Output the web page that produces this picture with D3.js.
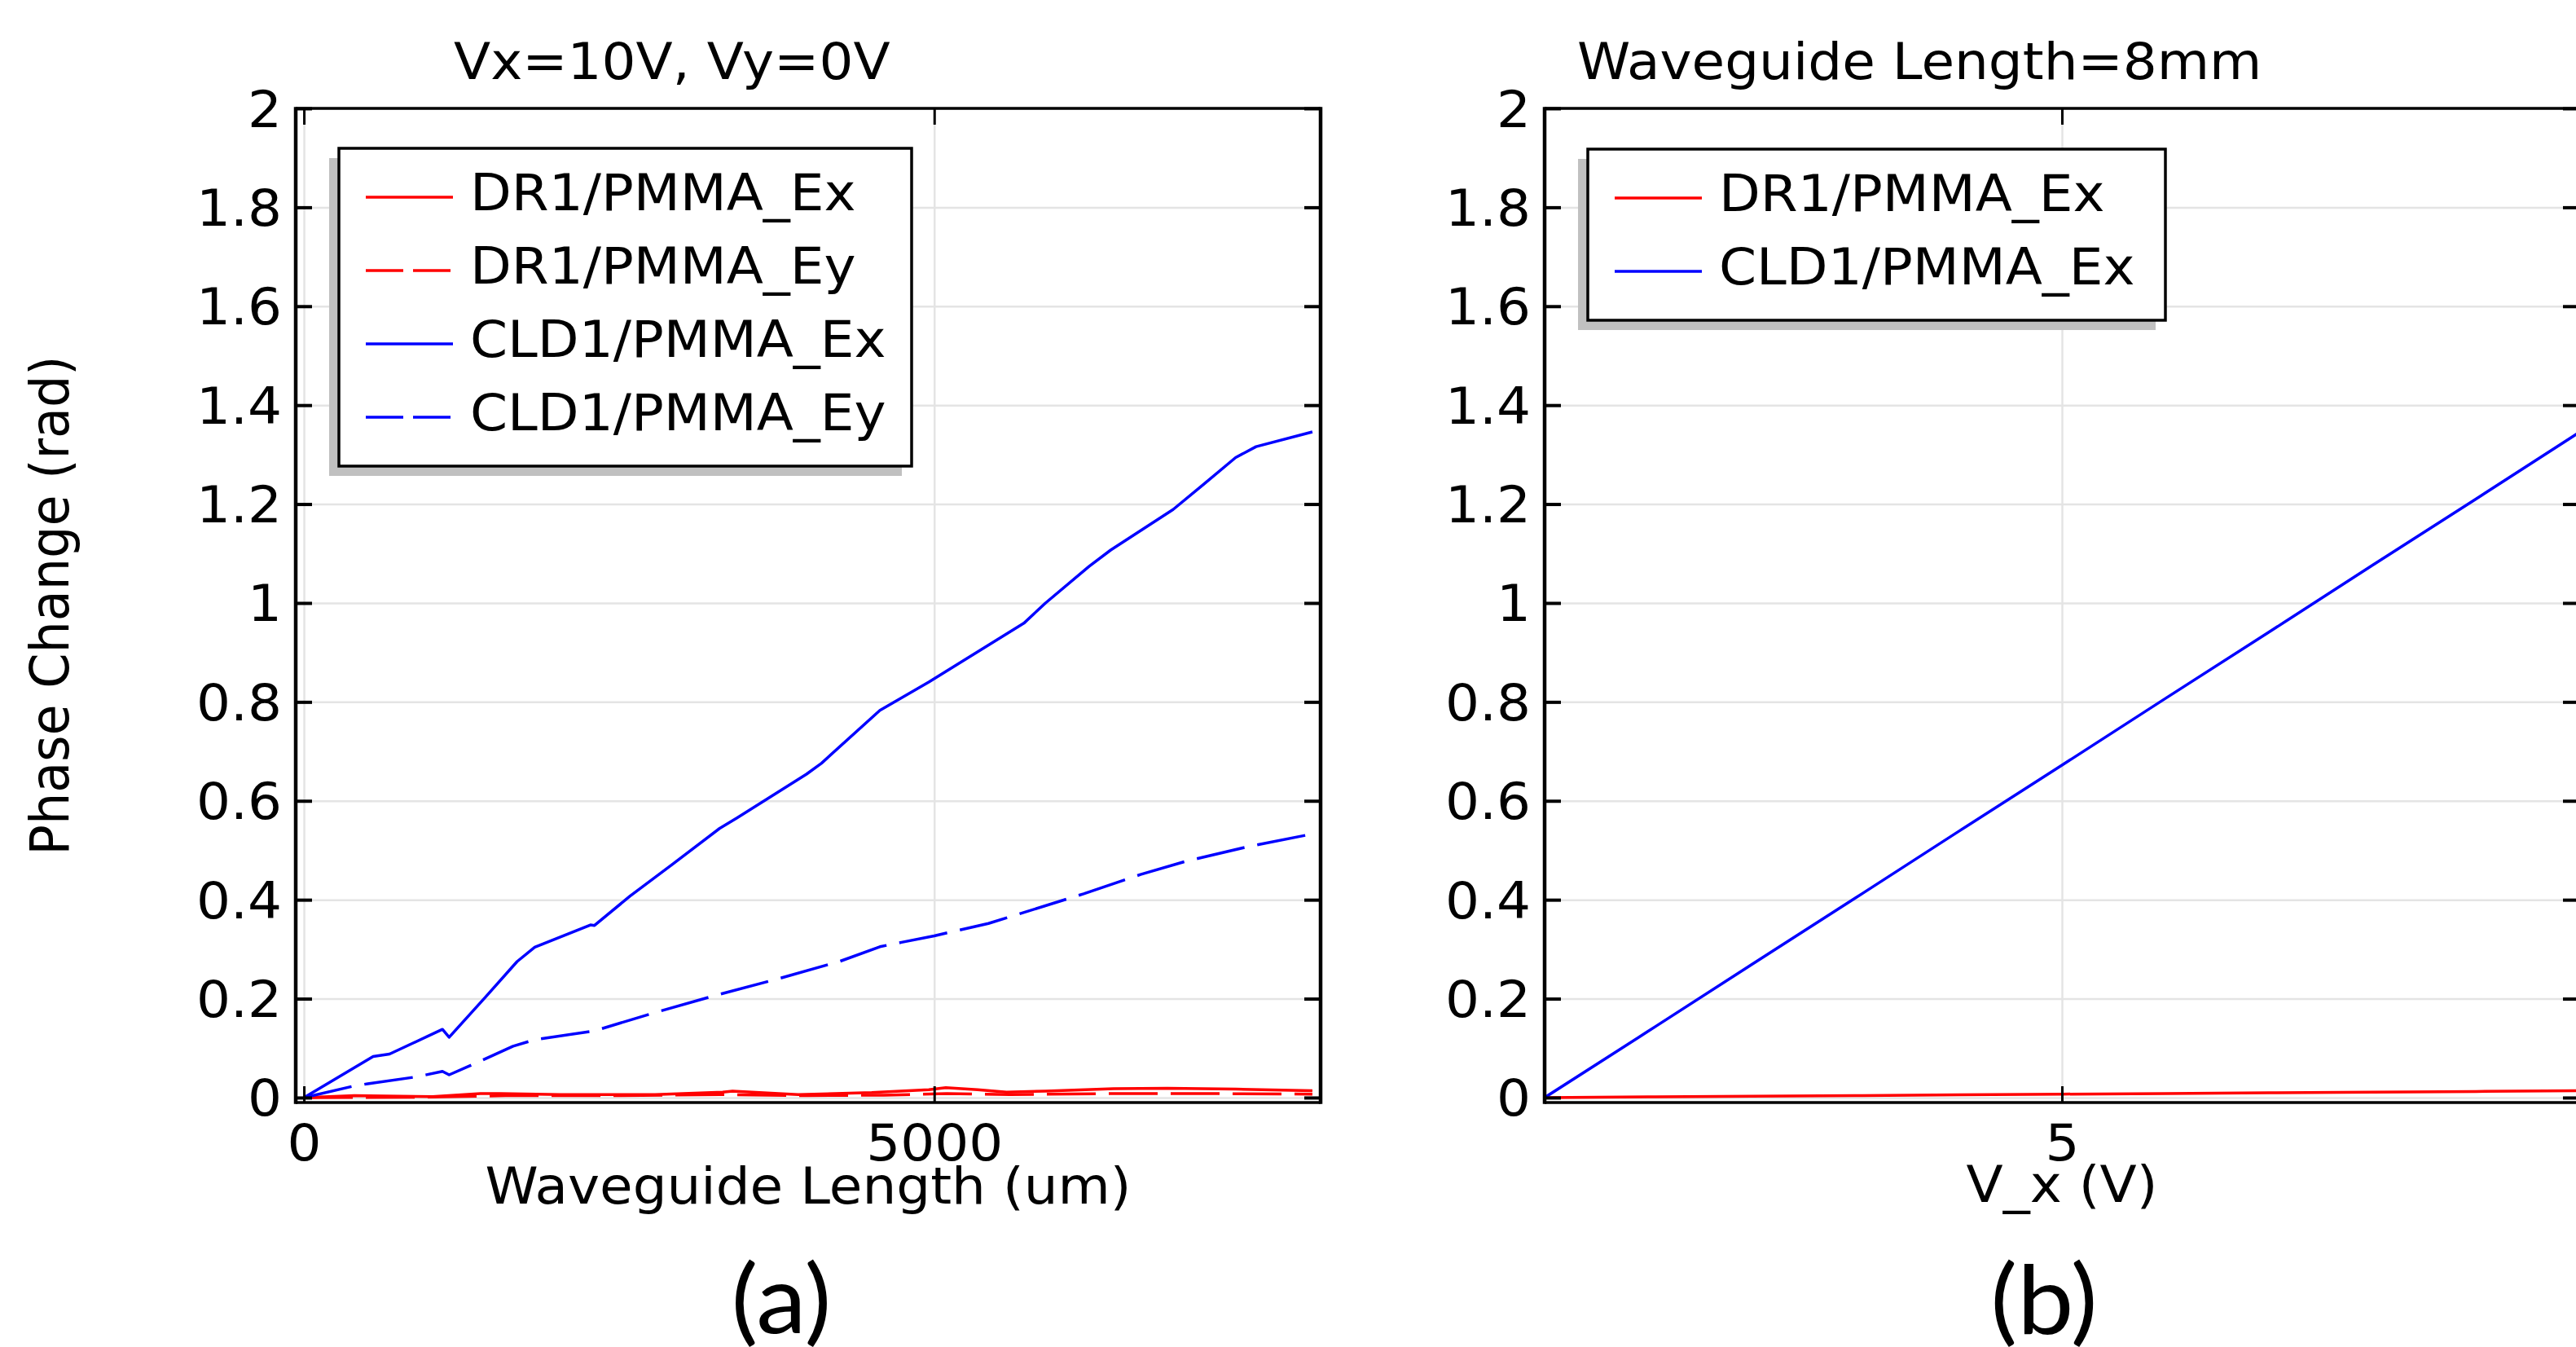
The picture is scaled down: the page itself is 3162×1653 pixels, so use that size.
<!DOCTYPE html>
<html>
<head>
<meta charset="utf-8">
<script src="https://cdn.jsdelivr.net/npm/d3@7"></script>
<style>
  body { margin: 0; background: #fff; }
  svg text { font-family: "DejaVu Sans", sans-serif; fill: #000; }
</style>
</head>
<body>
<div id="chart"></div>
<script>
// ---- data ----
const phaseTicks = [0, 0.2, 0.4, 0.6, 0.8, 1, 1.2, 1.4, 1.6, 1.8, 2];
const lengthTicks = [0, 5000];
const voltTicks = [5];

// (a) phase change vs waveguide length (um), Vx=10V
const cld1ExLen = [0, 549, 679, 1099, 1152, 1443, 1691, 1831, 2273, 2305, 2585, 2930, 3296, 3438, 3987, 4106, 4569, 4957, 5711, 5883, 6228, 6400, 6895, 7133, 7391, 7553, 8000];
const cld1ExPhase = [0, 0.083, 0.088, 0.138, 0.122, 0.204, 0.275, 0.304, 0.349, 0.348, 0.407, 0.473, 0.544, 0.566, 0.654, 0.676, 0.783, 0.840, 0.959, 1.000, 1.074, 1.107, 1.189, 1.239, 1.294, 1.316, 1.346];

const cld1EyLen = [0, 388, 506, 894, 1099, 1152, 1357, 1659, 1831, 2305, 2800, 3285, 3772, 4246, 4569, 4741, 5000, 5430, 6185, 6637, 7000, 7500, 8000];
const cld1EyPhase = [0, 0.023, 0.028, 0.042, 0.053, 0.046, 0.069, 0.104, 0.117, 0.135, 0.173, 0.208, 0.241, 0.275, 0.305, 0.314, 0.327, 0.352, 0.412, 0.451, 0.478, 0.508, 0.533];

const dr1ExLen = [0, 400, 1021, 1400, 1557, 2036, 2785, 3322, 3400, 3858, 3922, 4504, 4957, 5092, 5344, 5574, 5881, 6424, 6850, 7393, 8000];
const dr1ExPhase = [0, 0.004, 0.002, 0.008, 0.008, 0.006, 0.006, 0.011, 0.013, 0.007, 0.006, 0.010, 0.016, 0.020, 0.016, 0.011, 0.013, 0.018, 0.019, 0.017, 0.014];

const dr1EyLen = [0, 1000, 1600, 2500, 3300, 4000, 4600, 5100, 5600, 6400, 7200, 8000];
const dr1EyPhase = [0, 0.001, 0.004, 0.004, 0.006, 0.004, 0.005, 0.008, 0.006, 0.008, 0.008, 0.007];

// (b) phase change vs V_x (V), length 8mm
const vxVolt = [0, 1, 2, 3, 4, 5, 6, 7, 8, 9, 10];
const cld1ExVx = [0, 0.134, 0.269, 0.403, 0.538, 0.672, 0.807, 0.941, 1.076, 1.210, 1.345];
const dr1ExVx = [0, 0.0014, 0.0028, 0.004, 0.0055, 0.007, 0.0083, 0.0097, 0.011, 0.0124, 0.0138];

// ---- layout ----
const W = 3162, H = 1653;
const SX = 1.065;          // the figure's text is a bit wider than DejaVu Sans
const FS = 62;
const plotTop = 133, plotBottom = 1353;

const svg = d3.select("#chart").append("svg")
    .attr("width", W)
    .attr("height", H)
    .style("display", "block");
svg.append("rect").attr("width", W).attr("height", H).attr("fill", "#fff");

const y = d3.scaleLinear().domain([-0.01, 2]).range([plotBottom, plotTop]);

// text with a horizontal stretch
function label(parent, x, yPos, txt, anchor, extra) {
    return parent.append("text")
        .attr("transform", `translate(${x},${yPos}) scale(${SX},1)` + (extra || ""))
        .attr("text-anchor", anchor)
        .style("font-size", FS + "px")
        .text(txt);
}

function drawPanel(p) {
    const x = p.x;
    const [x0, x1] = x.range();
    const g = svg.append("g");

    svg.append("clipPath").attr("id", p.id + "-clip")
        .append("rect")
        .attr("x", x0).attr("y", plotTop)
        .attr("width", x1 - x0).attr("height", plotBottom - plotTop);

    // grid lines
    g.append("g")
        .attr("transform", `translate(${x0},0)`)
        .call(d3.axisLeft(y).tickValues(phaseTicks).tickSize(-(x1 - x0)).tickFormat(""))
        .call(a => a.select(".domain").remove())
        .selectAll("line").attr("stroke", "#e4e4e4").attr("stroke-width", 2.5);
    g.append("g")
        .attr("transform", `translate(0,${plotBottom})`)
        .call(d3.axisBottom(x).tickValues(p.gridX).tickSize(-(plotBottom - plotTop)).tickFormat(""))
        .call(a => a.select(".domain").remove())
        .selectAll("line").attr("stroke", "#e4e4e4").attr("stroke-width", 2.5);

    // curves
    const line = d3.line().x(d => x(d[0])).y(d => y(d[1]));
    p.series.forEach(s => {
        g.append("path")
            .datum(d3.zip(s.xs, s.ys))
            .attr("clip-path", `url(#${p.id}-clip)`)
            .attr("fill", "none")
            .attr("stroke", s.color)
            .attr("stroke-width", 3.5)
            .attr("stroke-linejoin", "round")
            .attr("stroke-dasharray", s.dashed ? "60,16" : null)
            .attr("d", line);
    });

    // frame
    g.append("line").attr("x1", x0).attr("x2", x1).attr("y1", plotTop).attr("y2", plotTop)
        .attr("stroke", "#000").attr("stroke-width", 3.5);
    g.append("line").attr("x1", x0).attr("x2", x1).attr("y1", plotBottom).attr("y2", plotBottom)
        .attr("stroke", "#000").attr("stroke-width", 3.5);
    [x0, x1].forEach(xx => {
        g.append("line").attr("x1", xx).attr("x2", xx).attr("y1", plotTop - 1.75).attr("y2", plotBottom + 1.75)
            .attr("stroke", "#000").attr("stroke-width", 4.5);
    });

    // left axis: inward ticks + labels
    const left = g.append("g")
        .attr("transform", `translate(${x0},0)`)
        .call(d3.axisLeft(y).tickValues(phaseTicks).tickSizeInner(-20).tickSizeOuter(0)
            .tickFormat(d => String(+d.toFixed(1))));
    left.select(".domain").remove();
    left.selectAll("line").attr("stroke", "#000").attr("stroke-width", 4);
    left.selectAll("text")
        .attr("x", null).attr("dy", null)
        .attr("fill", "#000")
        .attr("text-anchor", "end")
        .attr("transform", `translate(-17,22) scale(${SX},1)`)
        .style("font-size", FS + "px")
        .style("font-family", "DejaVu Sans");

    // right axis: inward ticks only
    const right = g.append("g")
        .attr("transform", `translate(${x1},0)`)
        .call(d3.axisRight(y).tickValues(phaseTicks).tickSizeInner(-20).tickSizeOuter(0).tickFormat(""));
    right.select(".domain").remove();
    right.selectAll("line").attr("stroke", "#000").attr("stroke-width", 4);

    // bottom axis
    const bottom = g.append("g")
        .attr("transform", `translate(0,${plotBottom})`)
        .call(d3.axisBottom(x).tickValues(p.xTicks).tickSizeInner(-20).tickSizeOuter(0)
            .tickFormat(d => String(d)));
    bottom.select(".domain").remove();
    bottom.selectAll("line").attr("stroke", "#000").attr("stroke-width", 3);
    bottom.selectAll("text")
        .attr("y", null).attr("dy", null)
        .attr("fill", "#000")
        .attr("text-anchor", "middle")
        .attr("transform", `translate(0,71) scale(${SX},1)`)
        .style("font-size", FS + "px")
        .style("font-family", "DejaVu Sans");

    // top axis
    const topAx = g.append("g")
        .attr("transform", `translate(0,${plotTop})`)
        .call(d3.axisTop(x).tickValues(p.xTicks).tickSizeInner(-20).tickSizeOuter(0).tickFormat(""));
    topAx.select(".domain").remove();
    topAx.selectAll("line").attr("stroke", "#000").attr("stroke-width", 3);

    // titles
    label(svg, p.title.x, 97, p.title.text, "start");
    label(svg, (x0 + x1) / 2, p.xLabel.y, p.xLabel.text, "middle");

    // legend
    const n = p.series.length;
    const lx = p.legend.x, ly = p.legend.y, lw = p.legend.w;
    const lh = 120 + 90 * (n - 1);
    const lg = svg.append("g");
    lg.append("rect").attr("x", lx - 12).attr("y", ly + 12).attr("width", lw).attr("height", lh)
        .attr("fill", "#c0c0c0");
    lg.append("rect").attr("x", lx).attr("y", ly).attr("width", lw).attr("height", lh)
        .attr("fill", "#fff").attr("stroke", "#000").attr("stroke-width", 3.5);
    p.series.forEach((s, i) => {
        const ry = ly + 60 + i * 90;
        lg.append("line")
            .attr("x1", lx + 33).attr("x2", lx + 140)
            .attr("y1", ry).attr("y2", ry)
            .attr("stroke", s.color).attr("stroke-width", 3.5)
            .attr("stroke-dasharray", s.dashed ? "46,12" : null);
        label(lg, lx + 161, ry + 16, s.name, "start");
    });

    // panel tag
    svg.append("text")
        .attr("transform", `translate(${p.tag.x},1636) scale(${SX},1)`)
        .attr("text-anchor", "middle")
        .style("font-family", "Lato, 'Open Sans', sans-serif")
        .style("font-size", "116px")
        .text(p.tag.text);
}

// (a)
drawPanel({
    id: "pa",
    x: d3.scaleLinear().domain([-65, 8065]).range([363, 1621]),
    xTicks: lengthTicks,
    gridX: lengthTicks,
    title: { x: 557, text: "Vx=10V, Vy=0V" },
    xLabel: { y: 1477, text: "Waveguide Length (um)" },
    legend: { x: 416, y: 182, w: 703 },
    tag: { x: 959, text: "(a)" },
    series: [
        { name: "DR1/PMMA_Ex", color: "#ff0000", dashed: false, xs: dr1ExLen, ys: dr1ExPhase },
        { name: "DR1/PMMA_Ey", color: "#ff0000", dashed: true, xs: dr1EyLen, ys: dr1EyPhase },
        { name: "CLD1/PMMA_Ex", color: "#0000ff", dashed: false, xs: cld1ExLen, ys: cld1ExPhase },
        { name: "CLD1/PMMA_Ey", color: "#0000ff", dashed: true, xs: cld1EyLen, ys: cld1EyPhase }
    ]
});

// (b)
drawPanel({
    id: "pb",
    x: d3.scaleLinear().domain([0, 10]).range([1896, 3166]),
    xTicks: voltTicks,
    gridX: voltTicks,
    title: { x: 1936, text: "Waveguide Length=8mm" },
    xLabel: { y: 1475, text: "V_x (V)" },
    legend: { x: 1949, y: 183, w: 709 },
    tag: { x: 2509, text: "(b)" },
    series: [
        { name: "DR1/PMMA_Ex", color: "#ff0000", dashed: false, xs: vxVolt, ys: dr1ExVx },
        { name: "CLD1/PMMA_Ex", color: "#0000ff", dashed: false, xs: vxVolt, ys: cld1ExVx }
    ]
});

// shared y label
label(svg, 84, 743, "Phase Change (rad)", "middle", " rotate(-90)");
</script>
</body>
</html>
